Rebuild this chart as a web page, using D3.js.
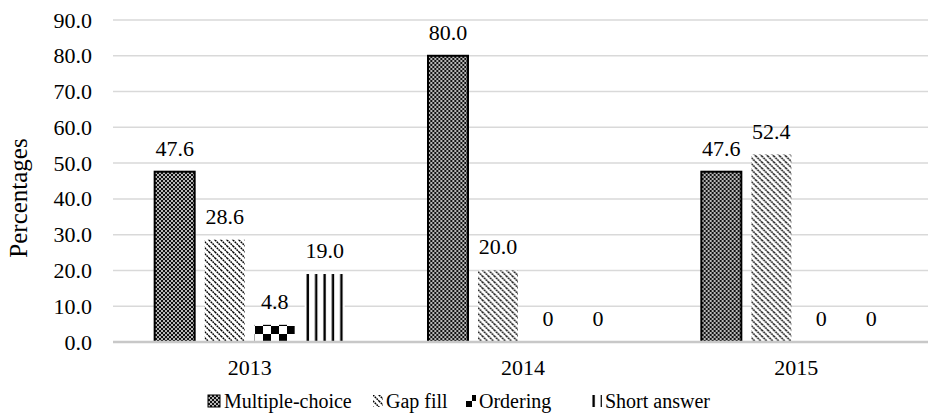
<!DOCTYPE html>
<html>
<head>
<meta charset="utf-8">
<script src="https://cdn.jsdelivr.net/npm/d3@7/dist/d3.min.js"></script>
<style>
  html, body { margin: 0; padding: 0; background: #fff; }
  svg, svg text { font-family: "Liberation Serif", "Times New Roman", "DejaVu Serif", serif !important; }
</style>
</head>
<body>
<svg id="chart" width="928" height="414"></svg>
<script>
const years = ["2013", "2014", "2015"];
const seriesNames = ["Multiple-choice", "Gap fill", "Ordering", "Short answer"];
const multipleChoice = [47.6, 80.0, 47.6];
const gapFill = [28.6, 20.0, 52.4];
const ordering = [4.8, 0, 0];
const shortAnswer = [19.0, 0, 0];
const yTicks = [0, 10, 20, 30, 40, 50, 60, 70, 80, 90];

(function () {
const FONT = '"Liberation Serif", "Times New Roman", serif';
const seriesValues = [multipleChoice, gapFill, ordering, shortAnswer];
const data = years.map((yr, i) => ({
  year: yr,
  values: seriesNames.map((s, j) => ({ series: s, idx: j, value: seriesValues[j][i] }))
}));

const svg = d3.select("#chart");
const defs = svg.append("defs");

// Patterns
const p0 = defs.append("pattern").attr("id", "pat0").attr("patternUnits", "userSpaceOnUse")
  .attr("width", 4).attr("height", 4);
p0.append("rect").attr("width", 4).attr("height", 4).attr("fill", "#b8b8b8");
p0.append("rect").attr("x", 0).attr("y", 0).attr("width", 2).attr("height", 2).attr("fill", "#111");
p0.append("rect").attr("x", 2).attr("y", 2).attr("width", 2).attr("height", 2).attr("fill", "#111");

const p1 = defs.append("pattern").attr("id", "pat1").attr("patternUnits", "userSpaceOnUse")
  .attr("width", 6).attr("height", 6);
p1.append("rect").attr("width", 6).attr("height", 6).attr("fill", "#fff");
p1.append("path").attr("d", "M0,0 L6,6 M-1,5 L1,7 M5,-1 L7,1")
  .attr("stroke", "#000").attr("stroke-width", 1.5).attr("stroke-dasharray", "1.8,0.7");

const p2 = defs.append("pattern").attr("id", "pat2").attr("patternUnits", "userSpaceOnUse")
  .attr("width", 16).attr("height", 16).attr("x", 254).attr("y", 326);
p2.append("rect").attr("width", 16).attr("height", 16).attr("fill", "#fff");
p2.append("rect").attr("x", 0).attr("y", 0).attr("width", 8).attr("height", 8).attr("fill", "#000");
p2.append("rect").attr("x", 8).attr("y", 8).attr("width", 8).attr("height", 8).attr("fill", "#000");

const p3 = defs.append("pattern").attr("id", "pat3").attr("patternUnits", "userSpaceOnUse")
  .attr("width", 8.4).attr("height", 8).attr("x", 307);
p3.append("rect").attr("width", 8.4).attr("height", 8).attr("fill", "#fff");
p3.append("rect").attr("x", 4.2).attr("y", 0).attr("width", 2.4).attr("height", 8).attr("fill", "#000");

const fills = ["url(#pat0)", "url(#pat1)", "url(#pat2)", "url(#pat3)"];

const plotLeft = 113, plotRight = 933, plotTop = 20, plotBottom = 342;
const x0 = d3.scaleBand().domain(years).range([plotLeft, plotRight]).paddingInner(0).paddingOuter(0);
const bw = x0.bandwidth();
const x1 = d3.scaleBand().domain(seriesNames).range([bw / 2 - 100, bw / 2 + 100])
  .paddingInner(0.2).paddingOuter(0.1);
const y = d3.scaleLinear().domain([0, 90]).range([plotBottom, plotTop]);

// Gridlines
svg.append("g").selectAll("line").data(yTicks.filter(t => t > 0)).join("line")
  .attr("x1", plotLeft).attr("x2", plotRight)
  .attr("y1", d => y(d)).attr("y2", d => y(d))
  .attr("stroke", "#d9d9d9").attr("stroke-width", 1.5);

// Y axis labels
const yAxis = d3.axisLeft(y).tickValues(yTicks).tickFormat(d3.format(".1f")).tickSize(0).tickPadding(0);
const gy = svg.append("g").attr("transform", "translate(92,0)").call(yAxis)
  .attr("font-family", FONT).attr("font-size", 22);
gy.select(".domain").remove();
gy.selectAll("text").style("font-family", FONT).style("font-size", "22px").attr("fill", "#000");

// Bars
const groups = svg.append("g").selectAll("g").data(data).join("g")
  .attr("transform", d => `translate(${x0(d.year)},0)`);
groups.selectAll("rect").data(d => d.values.filter(v => v.value > 0)).join("rect")
  .attr("x", d => x1(d.series))
  .attr("y", d => y(d.value))
  .attr("width", x1.bandwidth())
  .attr("height", d => y(0) - y(d.value))
  .attr("fill", d => fills[d.idx])
  .attr("stroke", d => d.idx === 0 ? "#000" : "none")
  .attr("stroke-width", 2);

// Data labels
groups.selectAll("text").data(d => d.values).join("text")
  .attr("x", d => x1(d.series) + x1.bandwidth() / 2)
  .attr("y", d => y(d.value) - 16)
  .attr("text-anchor", "middle")
  .style("font-family", FONT).style("font-size", "22px")
  .attr("fill", "#000")
  .text(d => d.value === 0 ? "0" : d3.format(".1f")(d.value));

// Baseline
svg.append("line").attr("x1", plotLeft).attr("x2", plotRight)
  .attr("y1", y(0)).attr("y2", y(0))
  .attr("stroke", "#c8c8c8").attr("stroke-width", 2.5);

// X axis labels
const xAxis = d3.axisBottom(x0).tickSize(0).tickPadding(0);
const gx = svg.append("g").attr("transform", `translate(0,${plotBottom + 17})`).call(xAxis)
  .attr("font-family", FONT).attr("font-size", 22);
gx.select(".domain").remove();
gx.selectAll("text").style("font-family", FONT).style("font-size", "22px").attr("fill", "#000");

// Y title
svg.append("text")
  .attr("transform", "translate(27,198) rotate(-90)")
  .attr("text-anchor", "middle")
  .style("font-family", FONT).style("font-size", "25px")
  .text("Percentages");

// Legend
const legendX = [208, 373, 466, 592];
const legend = svg.append("g").selectAll("g").data(seriesNames).join("g")
  .attr("transform", (d, i) => `translate(${legendX[i]},395)`);
legend.append("rect")
  .attr("width", (d, i) => i === 0 ? 12 : 10)
  .attr("height", 12)
  .attr("fill", (d, i) => fills[i])
  .attr("stroke", (d, i) => i === 0 ? "#000" : "none")
  .attr("stroke-width", 1);
legend.append("text")
  .attr("x", (d, i) => i === 0 ? 16 : 13)
  .attr("y", 13)
  .style("font-family", FONT).style("font-size", "20px")
  .text(d => d);
})();
</script>
</body>
</html>
